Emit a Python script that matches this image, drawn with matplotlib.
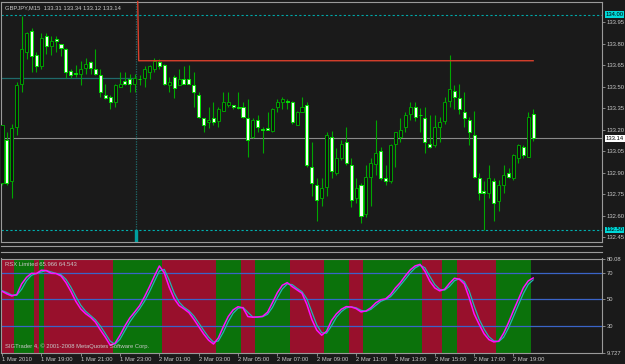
import matplotlib
matplotlib.use('Agg')
import matplotlib.pyplot as plt
import matplotlib.transforms as mtransforms
from matplotlib.lines import Line2D
from matplotlib.patches import Rectangle

W, H = 625, 364

# GBPJPY M15, 1 Mar 2010 17:00 .. 2 Mar 2010 20:00
opens = [132.83, 133.13, 132.84, 133.22, 133.52, 133.74, 133.89, 133.72, 133.64, 133.85,
         133.78, 133.83, 133.80, 133.76, 133.61, 133.59, 133.59, 133.63, 133.67, 133.62,
         133.58, 133.44, 133.43, 133.39, 133.50, 133.54, 133.55, 133.52, 133.55, 133.56,
         133.60, 133.62, 133.67, 133.65, 133.51, 133.57, 133.51, 133.55, 133.55, 133.51,
         133.44, 133.28, 133.25, 133.28, 133.26, 133.33, 133.37, 133.37, 133.36, 133.36,
         133.28, 133.15, 133.27, 133.20, 133.21, 133.19, 133.36, 133.39, 133.40, 133.39,
         133.23, 133.32, 133.37, 132.94, 132.81, 132.72, 132.80, 133.15, 132.90, 133.00,
         133.11, 132.95, 132.72, 132.81, 132.61, 132.87, 132.96, 133.05, 132.86, 132.84,
         133.10, 133.15, 133.22, 133.31, 133.36, 133.30, 133.28, 133.10, 133.09, 133.22,
         133.26, 133.40, 133.47, 133.42, 133.32, 133.27, 133.16, 132.86, 132.77, 132.76,
         132.84, 132.70, 132.81, 132.90, 132.86, 133.00, 133.08, 133.01, 133.31]
highs = [133.23, 133.18, 133.24, 133.53, 133.99, 133.88, 133.91, 133.74, 133.87, 133.87,
         133.85, 133.85, 133.80, 133.77, 133.62, 133.65, 133.68, 133.70, 133.68, 133.76,
         133.62, 133.52, 133.44, 133.52, 133.60, 133.60, 133.59, 133.59, 133.58, 133.64,
         133.65, 133.70, 133.69, 133.66, 133.57, 133.58, 133.62, 133.64, 133.65, 133.60,
         133.46, 133.28, 133.36, 133.39, 133.36, 133.46, 133.46, 133.37, 133.46, 133.39,
         133.41, 133.28, 133.30, 133.22, 133.32, 133.35, 133.41, 133.43, 133.41, 133.40,
         133.33, 133.43, 133.39, 133.11, 132.86, 132.86, 133.18, 133.19, 133.07, 133.13,
         133.22, 133.00, 132.86, 132.83, 132.95, 133.00, 133.27, 133.08, 132.95, 133.10,
         133.18, 133.28, 133.32, 133.39, 133.39, 133.35, 133.36, 133.30, 133.30, 133.29,
         133.43, 133.72, 133.51, 133.52, 133.46, 133.29, 133.33, 132.90, 132.84, 132.95,
         132.86, 132.85, 132.95, 132.93, 133.03, 133.10, 133.09, 133.32, 133.34]
lows = [132.81, 132.81, 132.72, 133.16, 133.46, 133.69, 133.60, 133.60, 133.62, 133.73,
        133.72, 133.74, 133.71, 133.56, 133.56, 133.57, 133.51, 133.59, 133.59, 133.58,
        133.43, 133.41, 133.34, 133.36, 133.50, 133.51, 133.46, 133.46, 133.51, 133.50,
        133.55, 133.60, 133.62, 133.51, 133.46, 133.42, 133.51, 133.52, 133.52, 133.36,
        133.28, 133.18, 133.21, 133.23, 133.22, 133.33, 133.36, 133.34, 133.34, 133.28,
        133.01, 133.14, 133.18, 133.04, 133.20, 133.18, 133.32, 133.34, 133.34, 133.24,
        133.23, 133.32, 132.94, 132.74, 132.56, 132.67, 132.74, 132.86, 132.88, 132.99,
        132.95, 132.66, 132.69, 132.55, 132.59, 132.67, 132.88, 132.85, 132.81, 132.83,
        132.94, 133.11, 133.18, 133.27, 133.26, 133.18, 133.04, 133.07, 133.08, 133.11,
        133.24, 133.36, 133.34, 133.31, 133.22, 133.09, 132.86, 132.71, 132.50, 132.72,
        132.56, 132.63, 132.76, 132.86, 132.85, 132.97, 133.00, 133.01, 133.12]
closes = [133.23, 132.83, 133.21, 133.51, 133.76, 133.87, 133.71, 133.64, 133.84, 133.78,
          133.82, 133.82, 133.77, 133.60, 133.58, 133.59, 133.62, 133.66, 133.63, 133.59,
          133.46, 133.42, 133.39, 133.51, 133.52, 133.52, 133.52, 133.56, 133.55, 133.62,
          133.64, 133.68, 133.64, 133.52, 133.53, 133.49, 133.55, 133.52, 133.52, 133.46,
          133.29, 133.23, 133.27, 133.25, 133.34, 133.39, 133.39, 133.36, 133.35, 133.29,
          133.13, 133.27, 133.22, 133.20, 133.20, 133.34, 133.39, 133.41, 133.39, 133.25,
          133.32, 133.36, 132.95, 132.83, 132.71, 132.79, 133.16, 132.91, 133.00, 133.10,
          132.97, 132.71, 132.79, 132.60, 132.87, 132.97, 133.04, 132.86, 132.84, 133.09,
          133.18, 133.20, 133.30, 133.36, 133.29, 133.30, 133.11, 133.08, 133.22, 133.25,
          133.39, 133.48, 133.43, 133.34, 133.28, 133.18, 132.87, 132.76, 132.76, 132.86,
          132.69, 132.81, 132.88, 132.87, 133.02, 133.09, 133.02, 133.29, 133.14]

# RSX Limited, two lines
rsx_main = [56, 54, 52.5, 53.5, 61.5, 66.5, 69.5, 69.3, 71.8, 71.5,
            69.5, 69.3, 67.5, 62.5, 56, 48.5, 42.8, 39.2, 36.5, 32.8,
            27, 21.6, 15.5, 17, 23, 30, 36, 40.5, 45.3, 52,
            59.5, 67.5, 75, 69.8, 59, 50.5, 45.3, 42.8, 40, 35,
            29.5, 24, 19.3, 16.4, 21, 29.4, 37, 42, 44.4, 43.5,
            37, 36.5, 36.7, 37.2, 40.3, 47.5, 55, 60.5, 62.5, 59.5,
            57, 54.5, 46, 34.8, 26.8, 23, 26, 34, 39, 42.5,
            44.5, 44.2, 43, 40.5, 41.2, 43.6, 47.3, 49.6, 50.3, 53.5,
            58.5, 62.5, 67.5, 72, 75, 76.2, 71, 63.5, 58.5, 56.3,
            57.5, 62, 65.8, 65.0, 61.5, 51, 39, 31.3, 24.2, 19.7,
            18.0, 18.5, 24.5, 32.5, 41.5, 50, 58.5, 63.8, 65.966]
rsx_signal = [56.5, 55, 53.2, 53, 57.5, 64, 68, 69.4, 70.5, 71.6,
              70.5, 69.4, 68.4, 65, 59.2, 52.2, 45.6, 41, 37.8, 34.6,
              29.9, 24.3, 18.5, 16.2, 20, 26.5, 33, 38.2, 42.9, 48.6,
              55.7, 63.5, 71.2, 72.4, 64.4, 54.7, 47.9, 44, 41.4, 37.5,
              32.2, 26.7, 21.6, 17.8, 18.7, 25.2, 33.2, 39.5, 43.2, 43.9,
              40.2, 36.7, 36.6, 36.9, 38.7, 43.9, 51.2, 57.7, 61.5, 61,
              58.2, 55.7, 50.2, 40.4, 30.8, 24.9, 24.5, 30, 36.5, 40.7,
              43.5, 44.3, 43.6, 41.7, 40.8, 42.4, 45.4, 48.4, 49.9, 51.9,
              56, 60.5, 65, 69.7, 73.5, 75.6, 73.6, 67.2, 61, 57.4,
              56.9, 59.7, 63.9, 65.4, 63.2, 56.2, 45, 35.1, 27.7, 21.9,
              18.8, 18.2, 21.5, 28.5, 37, 45.7, 54.2, 61.1, 64.543]

# background histogram runs: (colour key, number of bars)
band_runs = [('r', 3), ('g', 4), ('r', 1), ('g', 1), ('r', 14), ('g', 10), ('r', 11),
             ('g', 5), ('r', 3), ('g', 7), ('r', 7), ('g', 5), ('r', 3), ('g', 12),
             ('r', 4), ('g', 3), ('r', 8), ('g', 7)]

time_label_bars = [0, 8, 16, 24, 32, 40, 48, 56, 64, 72, 80, 88, 96, 104]
time_labels = ['1 Mar 2010', '1 Mar 19:00', '1 Mar 21:00', '1 Mar 23:00', '2 Mar 01:00',
               '2 Mar 03:00', '2 Mar 05:00', '2 Mar 07:00', '2 Mar 09:00', '2 Mar 11:00',
               '2 Mar 13:00', '2 Mar 15:00', '2 Mar 17:00', '2 Mar 19:00']
price_ticks = [133.95, 133.80, 133.65, 133.50, 133.35, 133.20, 133.05, 132.90, 132.75,
               132.60, 132.45]
rsi_ticks = [80.08, 70, 50, 30, 9.727]
rsi_tick_labels = ['80.08', '70', '50', '30', '9.727']
rsi_levels = [70, 50, 30]

bid = 133.14
upper_alert = 134.00
lower_alert = 132.50
red_level = 133.68
teal_level = 133.56
marker_bar = 27.3

BG = '#1a1a1a'
FG = '#c8c8c8'
FRAME = '#9a9a9a'
plt.rcParams['font.family'] = ['Liberation Sans', 'DejaVu Sans']
FS = 4.2


def fig_hline(fig, y, x0, x1, color=FRAME, lw=0.8):
    fig.add_artist(Line2D([x0 / W, x1 / W], [1 - y / H, 1 - y / H],
                          transform=fig.transFigure, color=color, lw=lw))


def main():
    fig = plt.figure(figsize=(W / 100, H / 100), dpi=100, facecolor=BG)
    n = len(closes)
    idx = list(range(n))

    # ---- main price window ----
    ax = fig.add_axes([1.5 / W, 1 - 242 / H, 600.5 / W, 240.5 / H], facecolor=BG)
    ax.set_xlim(-0.1, 122.0)
    ax.set_ylim(132.416, 134.093)

    ax.vlines(idx, lows, highs, color='#00a800', lw=0.8, zorder=3)
    for i in idx:
        o, c = opens[i], closes[i]
        if c > o:
            face, edge = '#101010', '#00a000'
        else:
            face, edge = '#f4fff4', '#00e000'
        body = max(abs(c - o), 0.004)
        ax.bar(i, body, bottom=min(o, c), width=0.62, facecolor=face,
               edgecolor=edge, lw=0.7, zorder=4)

    ax.axhline(upper_alert, color='#00a8a8', lw=0.8, ls=(0, (2, 2)), zorder=2)
    ax.axhline(lower_alert, color='#00b0b0', lw=0.8, ls=(0, (2, 2)), zorder=2)
    ax.axhline(bid, color='#8a8a8a', lw=0.8, zorder=2)
    ax.plot([-0.1, marker_bar], [teal_level, teal_level], color='#1f6a6a', lw=0.9, zorder=2)
    ax.axvline(marker_bar, color='#1f6a6a', lw=0.9, ls=(0, (1, 1)), zorder=2)
    ax.add_patch(Rectangle((marker_bar - 0.35, 132.416), 0.6, lower_alert - 132.416,
                           color='#00a0a0', zorder=2))
    ax.plot([27.6, 27.8, 108], [134.093, red_level, red_level], color='#d8402c',
            lw=1.0, zorder=5, clip_on=False)

    ax.set_xticks([])
    ax.yaxis.tick_right()
    ax.set_yticks(price_ticks)
    ax.set_yticklabels([f'{p:.2f}' for p in price_ticks])
    ax.tick_params(axis='y', colors=FRAME, labelcolor=FG, labelsize=FS,
                   length=2.2, width=0.6, pad=1)
    for s in ax.spines.values():
        s.set_color(FRAME)
        s.set_linewidth(0.8)

    tr = mtransforms.blended_transform_factory(ax.transAxes, ax.transData)
    for val, fc in [(upper_alert, '#00d8d8'), (bid, '#ffffff'), (lower_alert, '#00d8d8')]:
        ax.text(1.006, val, f'{val:.2f}', transform=tr, fontsize=FS, color='black',
                va='center', ha='left', zorder=10,
                bbox=dict(boxstyle='square,pad=0.15', fc=fc, ec='none'))

    ax.text(0.005, 0.985, 'GBPJPY,M15  133.31 133.34 133.12 133.14',
            transform=ax.transAxes, fontsize=FS, color=FG, va='top', ha='left')

    # empty separator window
    fig_hline(fig, 246, 1.5, 602)
    fig_hline(fig, 251.5, 1.5, 602)

    # ---- RSX window ----
    ax2 = fig.add_axes([1.5 / W, 1 - 353 / H, 600.5 / W, 94.5 / H], facecolor=BG)
    ax2.set_xlim(-0.1, 122.0)
    ax2.set_ylim(9.65, 80.6)

    band_colors = []
    for key, count in band_runs:
        band_colors += [('#98102c' if key == 'r' else '#0b720b')] * count
    ax2.bar(range(len(band_colors)), [80.6 - 9.65] * len(band_colors), bottom=9.65,
            width=1.0, color=band_colors, lw=0, zorder=1)

    for lev in rsi_levels:
        ax2.axhline(lev, color='#3a64c8', lw=0.9, zorder=2)
    ax2.plot(idx, rsx_signal, color='#22b4b4', lw=0.9, zorder=3)
    ax2.plot(idx, rsx_main, color='#ff10ff', lw=1.1, zorder=4)

    ax2.yaxis.tick_right()
    ax2.set_yticks(rsi_ticks)
    ax2.set_yticklabels(rsi_tick_labels)
    ax2.tick_params(axis='y', colors=FRAME, labelcolor=FG, labelsize=FS,
                    length=2.2, width=0.6, pad=1)
    ax2.set_xticks(time_label_bars)
    ax2.set_xticklabels(time_labels, ha='left')
    ax2.tick_params(axis='x', colors=FRAME, labelcolor=FG, labelsize=FS,
                    length=2.2, width=0.6, pad=0.8)
    for s in ax2.spines.values():
        s.set_color(FRAME)
        s.set_linewidth(0.8)

    ax2.text(0.005, 0.96, 'RSX Limited 65.966 64.543', transform=ax2.transAxes,
             fontsize=FS, color=FG, va='top', ha='left', zorder=6)
    ax2.text(0.005, 0.04, 'SIGTrader 4, \u00a9 2001-2008 MetaQuotes Software Corp.',
             transform=ax2.transAxes, fontsize=FS, color=FG, va='bottom', ha='left', zorder=6)

    fig.savefig('out.png', dpi=100, facecolor=BG)


if __name__ == '__main__':
    main()
